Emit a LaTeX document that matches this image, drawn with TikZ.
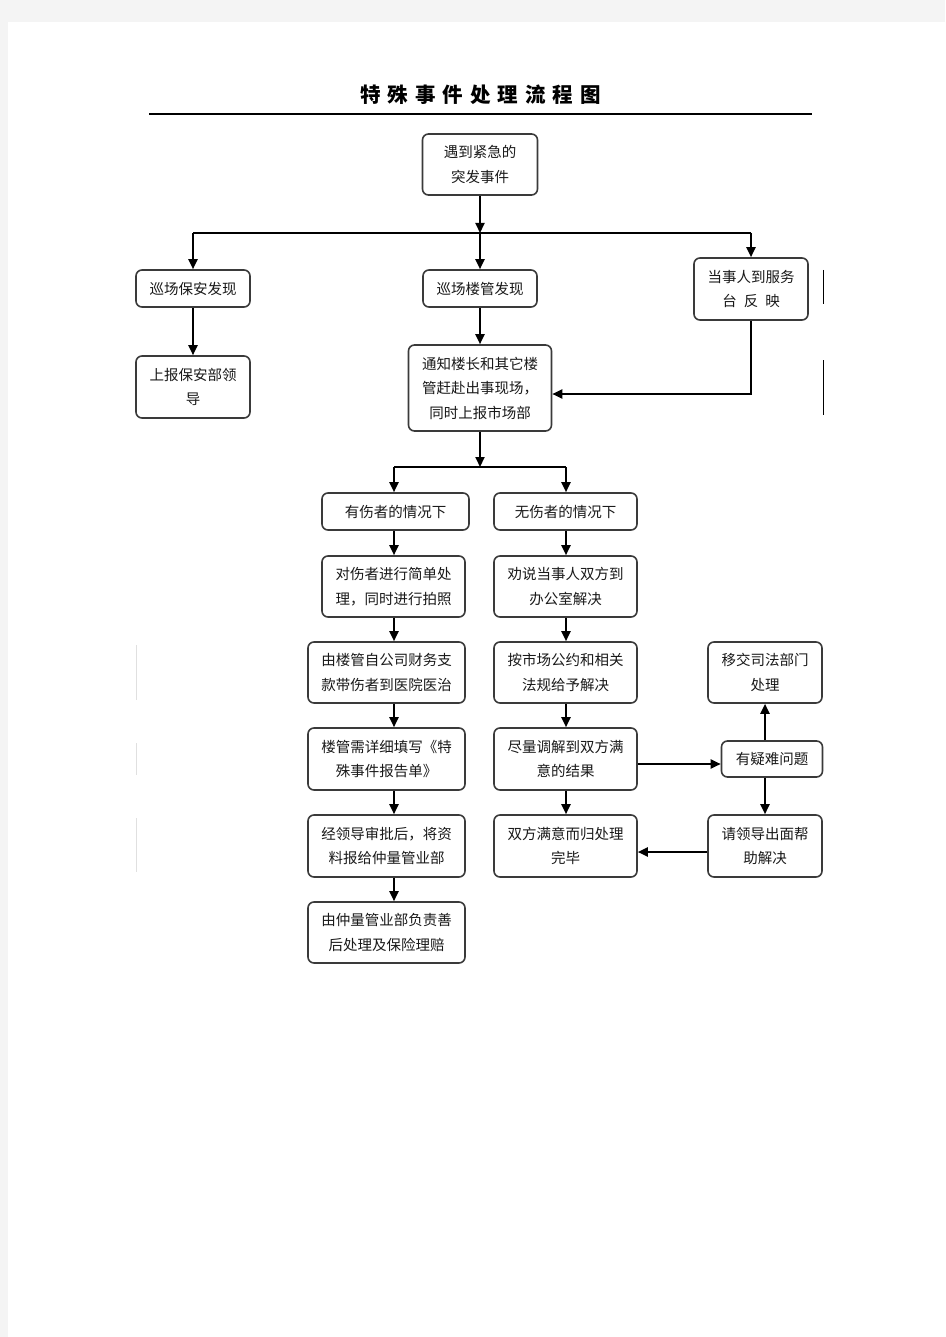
\documentclass[tikz,border=0pt]{standalone}
\usepackage{fontspec}
\setmainfont{Noto Sans CJK SC}
\newfontfamily\titlefont{Noto Sans CJK SC Black}
\usetikzlibrary{arrows.meta}
\definecolor{pagegrey}{HTML}{F4F4F4}
\definecolor{boxline}{HTML}{3A3A3A}
\tikzset{
  box/.style={draw=boxline, line width=1.6pt, rounded corners=6pt, fill=white,
    inner sep=0pt, align=center, font=\fontsize{14.5}{24.5}\selectfont, text=black!90},
  arr/.style={draw=black, line width=2pt, -{Triangle[length=10pt,width=9pt]}},
  ln/.style={draw=black, line width=2pt},
}
\newcommand{\mybox}[6]{\node[box, minimum width=#4pt, minimum height=#5pt] (#1) at (#2,#3) {#6};}
\begin{document}
\begin{tikzpicture}[x=1pt,y=-1pt]
\useasboundingbox (0,0) rectangle (945,1337);
\fill[pagegrey] (0,0) rectangle (945,1337);
\fill[white] (8,22) rectangle (945,1337);
% title
\node[font=\titlefont\fontsize{20.5}{20.5}\selectfont] (title) at (480.5,95) {特\kern7pt 殊\kern7pt 事\kern7pt 件\kern7pt 处\kern7pt 理\kern7pt 流\kern7pt 程\kern7pt 图};
\coordinate (tl) at (149,114);
\coordinate (tr) at (812,114);
\draw[line width=2.2pt] (tl) -- (tr);
% boxes
\mybox{A}{480}{164.5}{115}{61}{遇到紧急的\\突发事件}
\mybox{B1}{193}{288.5}{114}{37}{巡场保安发现}
\mybox{B2}{480}{288.5}{114}{37}{巡场楼管发现}
\mybox{B3}{751}{289}{114}{62}{当事人到服务\\台\hspace{7pt}反\hspace{7pt}映}
\mybox{C1}{193}{387}{114}{62}{上报保安部领\\导}
\mybox{C2}{480}{388}{143}{86}{通知楼长和其它楼\\管赶赴出事现场，\\同时上报市场部}
\mybox{D1}{395.5}{511.5}{147}{37}{有伤者的情况下}
\mybox{D2}{565.5}{511.5}{143}{37}{无伤者的情况下}
\mybox{E1}{393.5}{586.5}{143}{61}{对伤者进行简单处\\理，同时进行拍照}
\mybox{E2}{565.5}{586.5}{143}{61}{劝说当事人双方到\\办公室解决}
\mybox{F1}{386.5}{672.5}{157}{61}{由楼管自公司财务支\\款带伤者到医院医治}
\mybox{F2}{565.5}{672.5}{143}{61}{按市场公约和相关\\法规给予解决}
\mybox{F3}{765}{672.5}{114}{61}{移交司法部门\\处理}
\mybox{G1}{386.5}{759}{157}{62}{楼管需详细填写《特\\殊事件报告单》}
\mybox{G2}{565.5}{759}{143}{62}{尽量调解到双方满\\意的结果}
\mybox{G3}{772}{759}{101}{36}{有疑难问题}
\mybox{H1}{386.5}{846}{157}{62}{经领导审批后，将资\\料报给仲量管业部}
\mybox{H2}{565.5}{846}{143}{62}{双方满意而归处理\\完毕}
\mybox{H3}{765}{846}{114}{62}{请领导出面帮\\助解决}
\mybox{I1}{386.5}{932.5}{157}{61}{由仲量管业部负责善\\后处理及保险理赔}
% helper coordinates
\coordinate (split1) at (480,233);
\coordinate (col1) at (394,0);
\coordinate (col2) at (566,0);
\coordinate (col3) at (765,0);
\coordinate (split2) at (480,467);
\coordinate (bend) at (751,394);
\coordinate (rowG) at (0,764);
\coordinate (rowH) at (0,852);
% top split
\draw[arr] (A.south) -- (split1);
\draw[ln] (B1.north |- split1) -- (B3.north |- split1);
\draw[arr] (B1.north |- split1) -- (B1.north);
\draw[arr] (split1) -- (B2.north);
\draw[arr] (B3.north |- split1) -- (B3.north);
\draw[arr] (B1.south) -- (C1.north);
\draw[arr] (B2.south) -- (C2.north);
\draw[arr] (B3.south) -- (bend) -- (C2.east |- bend);
% second split
\draw[arr] (C2.south) -- (split2);
\draw[ln] (col1 |- split2) -- (col2 |- split2);
\draw[arr] (col1 |- split2) -- (col1 |- D1.north);
\draw[arr] (col2 |- split2) -- (col2 |- D2.north);
% left column
\draw[arr] (col1 |- D1.south) -- (col1 |- E1.north);
\draw[arr] (col1 |- E1.south) -- (col1 |- F1.north);
\draw[arr] (col1 |- F1.south) -- (col1 |- G1.north);
\draw[arr] (col1 |- G1.south) -- (col1 |- H1.north);
\draw[arr] (col1 |- H1.south) -- (col1 |- I1.north);
% middle column
\draw[arr] (col2 |- D2.south) -- (col2 |- E2.north);
\draw[arr] (col2 |- E2.south) -- (col2 |- F2.north);
\draw[arr] (col2 |- F2.south) -- (col2 |- G2.north);
\draw[arr] (col2 |- G2.south) -- (col2 |- H2.north);
% right part
\draw[arr] (G2.east |- rowG) -- (G3.west |- rowG);
\draw[arr] (col3 |- G3.north) -- (col3 |- F3.south);
\draw[arr] (col3 |- G3.south) -- (col3 |- H3.north);
\draw[arr] (H3.west |- rowH) -- (H2.east |- rowH);
% stray marks
\draw[line width=1pt] (823,270) -- (823,304);
\draw[line width=1pt] (823,360) -- (823,415);
\draw[line width=1pt, black!12] (136.5,645) -- (136.5,700);
\draw[line width=1pt, black!12] (136.5,743) -- (136.5,775);
\draw[line width=1pt, black!12] (136.5,818) -- (136.5,872);
\end{tikzpicture}
\end{document}
